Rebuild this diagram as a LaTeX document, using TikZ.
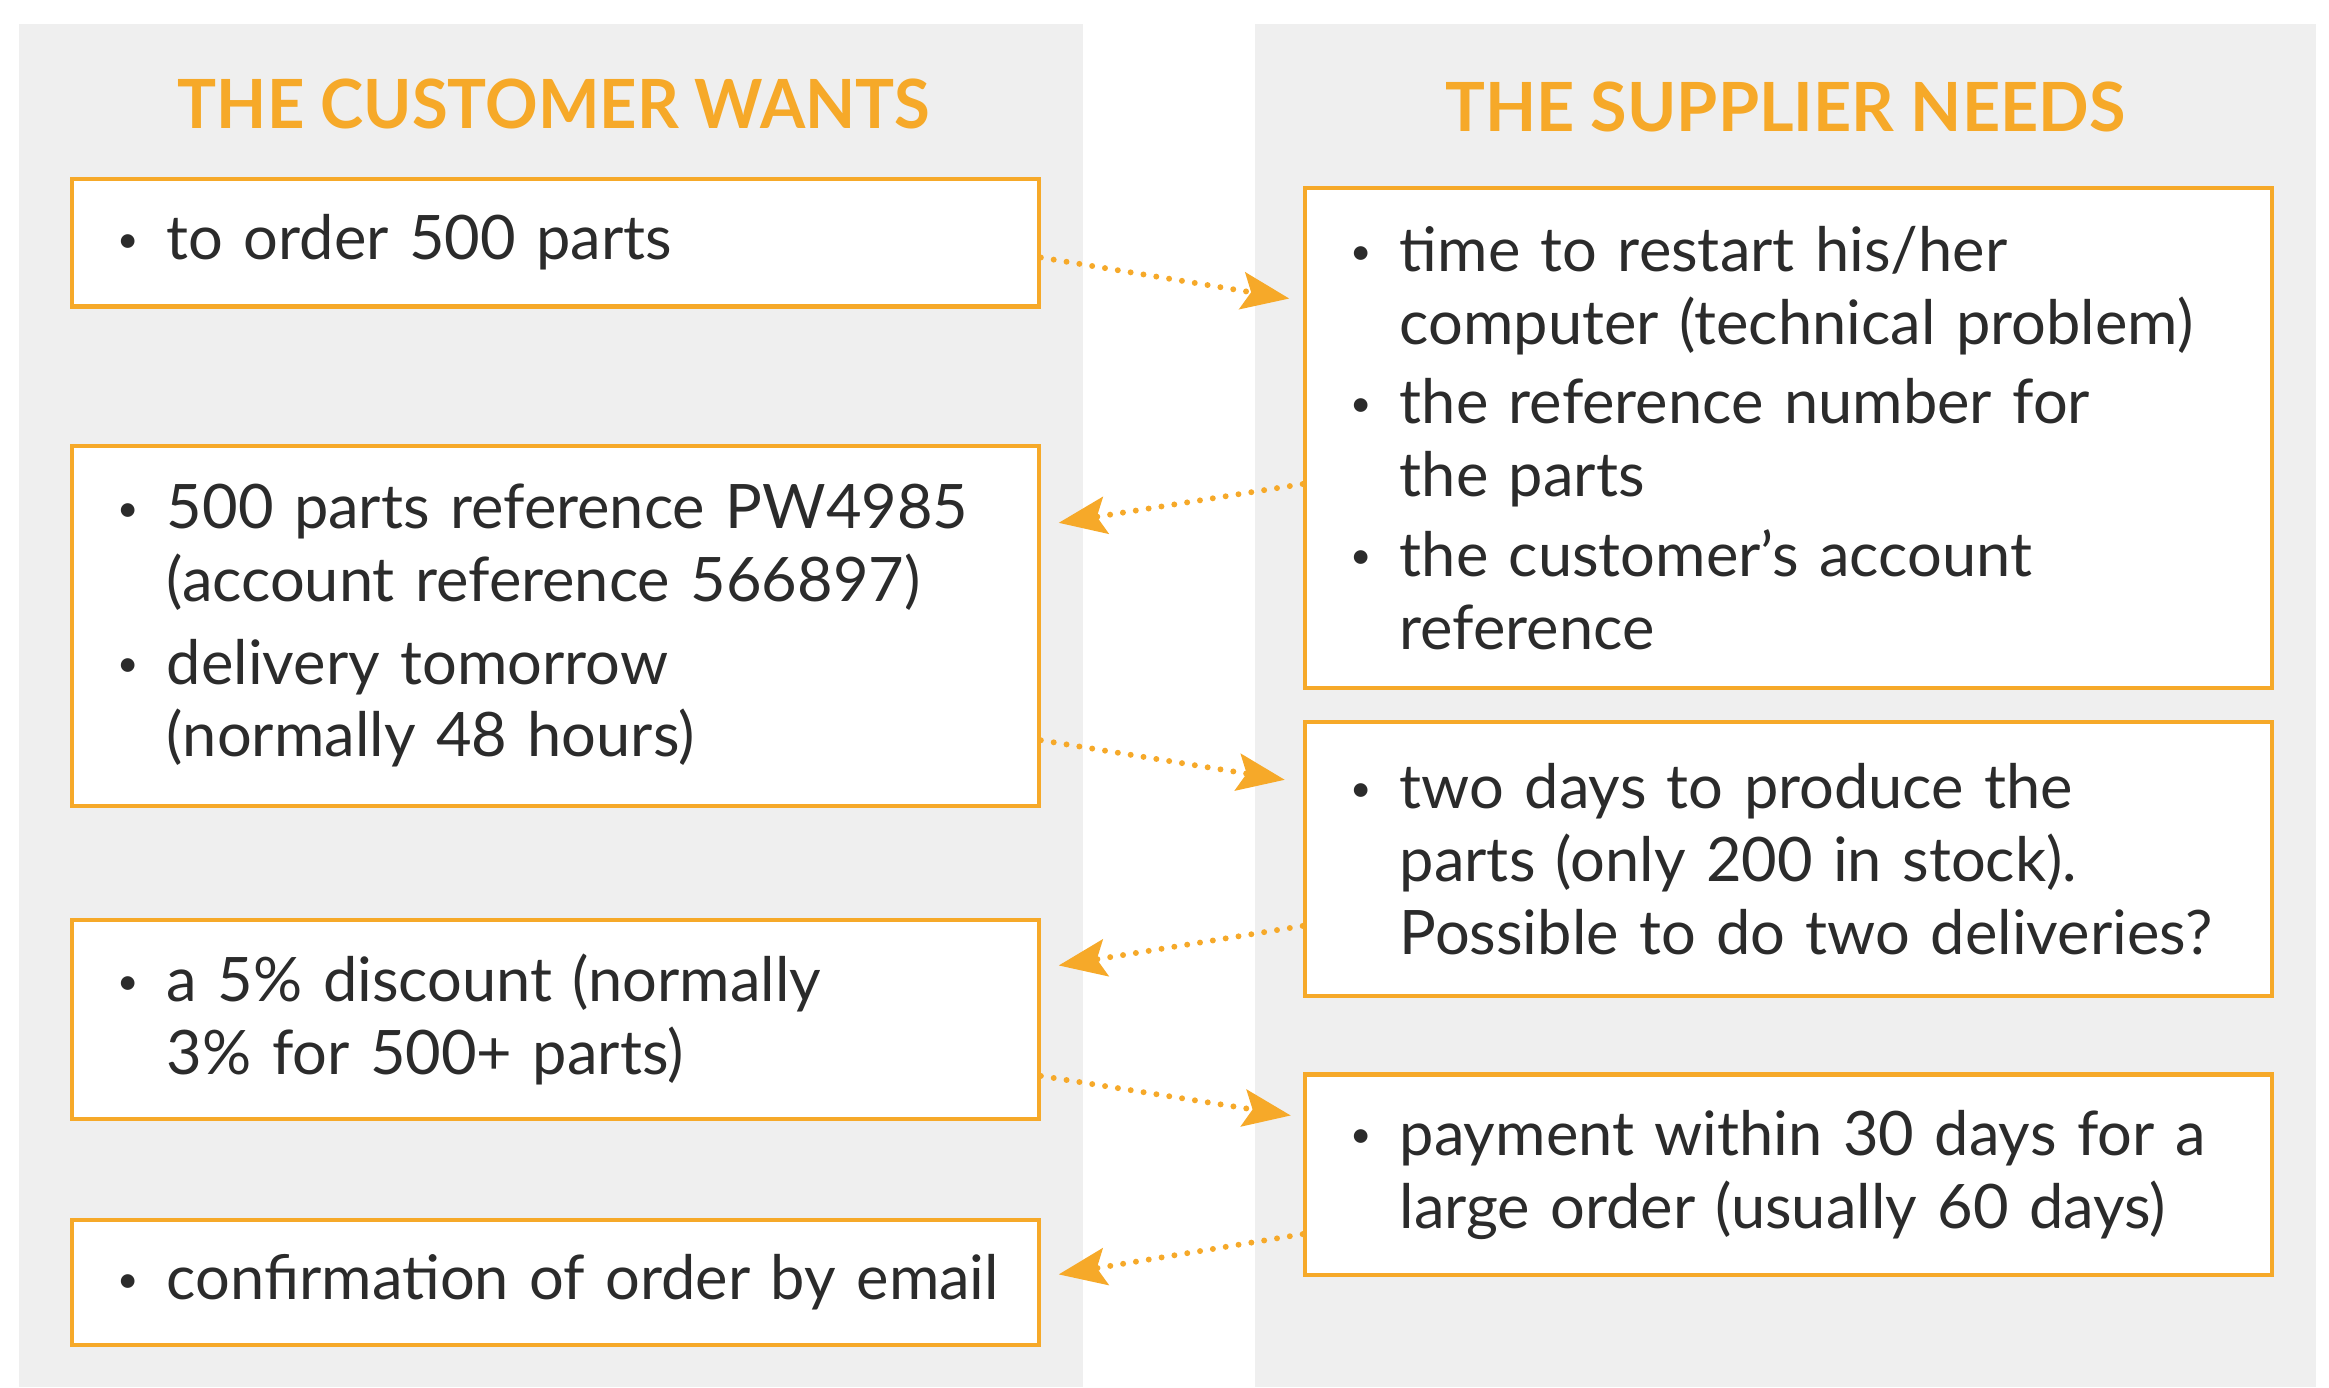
\documentclass[tikz,border=0pt]{standalone}
\usepackage{fontspec}
\setmainfont{Lato}
\usetikzlibrary{arrows.meta,calc}

\definecolor{amber}{HTML}{F6A929}
\definecolor{panel}{HTML}{EFEFEF}
\definecolor{ink}{HTML}{2B2B2B}

% bullet and continuation indent
\newcommand{\itm}{\makebox[7.3mm][l]{\hspace{0.6mm}\raisebox{0.12em}{\scalebox{0.6}{\textbullet}}}}
\newcommand{\cnt}{\hspace*{7.3mm}}

\tikzset{
  box/.style={draw=amber, line width=0.55mm, fill=white, anchor=north west,
    inner xsep=5.5mm, inner ysep=0pt, text width=119.2mm, align=left,
    minimum height=#1, text=ink, font=\fontsize{23.5}{27.9}\selectfont},
  heading/.style={text=amber, font=\fontsize{26}{30}\selectfont\bfseries},
  flow/.style={amber, line width=0.8mm, line cap=round,
    dash pattern=on 0pt off 1.75mm,
    -{Stealth[length=6.4mm, width=5mm, inset=1.2mm]}}
}

\begin{document}
\begin{tikzpicture}[x=0.2mm, y=-0.2mm]
\useasboundingbox (0,0) rectangle (1568,934);
\fill[white] (0,0) rectangle (1568,934);

% the two columns
\fill[panel] (13,16) rectangle (729,934);
\fill[panel] (845,16) rectangle (1559,934);

\node[heading] (custhead) at (373,70) {\scalebox{0.96}[1]{THE CUSTOMER WANTS}};
\node[heading] (supphead) at (1202,72) {\scalebox{0.98}[1]{THE SUPPLIER NEEDS}};

% customer side
\node[box=17.2mm] (L1) at (47,119) {\itm to order 500 parts};
\node[box=48.4mm] (L2) at (47,299) {\itm 500 parts reference PW4985\\
  \cnt (account reference 566897)\\[1.3mm]
  \itm delivery tomorrow\\
  \cnt (normally 48 hours)};
\node[box=26.8mm] (L3) at (47,618) {\itm a 5\% discount (normally\\
  \cnt 3\% for 500+ parts)};
\node[box=16.8mm] (L4) at (47,820) {\itm\mbox{confirmation of order by email}};

% supplier side
\node[box=67.4mm] (R1) at (877,125) {\itm time to restart his/her\\
  \cnt computer (technical problem)\\[0.9mm]
  \itm the reference number for\\
  \cnt the parts\\[0.9mm]
  \itm the customer’s account\\
  \cnt reference};
\node[box=36.8mm] (R2) at (877,485) {\itm two days to produce the\\
  \cnt parts (only 200 in stock).\\
  \cnt Possible to do two deliveries?};
\node[box=27mm] (R3) at (877,722) {\itm payment within 30 days for a\\
  \cnt large order (usually 60 days)};

% back and forth
\draw[flow] ($(L1.east)+(0,10)$) -- ($(R1.north west)+(-9,76)$);
\draw[flow] ($(R1.west)+(0,31)$) -- ($(L2.north east)+(12,53)$);
\draw[flow] ($(L2.east)+(0,77)$) -- ($(R2.north west)+(-12,40)$);
\draw[flow] ($(R2.west)+(0,45)$) -- ($(L3.north east)+(12,32)$);
\draw[flow] ($(L3.east)+(0,38)$) -- ($(R3.north west)+(-8,29)$);
\draw[flow] ($(R3.west)+(0,40)$) -- ($(L4.north east)+(12,38)$);
\end{tikzpicture}
\end{document}
